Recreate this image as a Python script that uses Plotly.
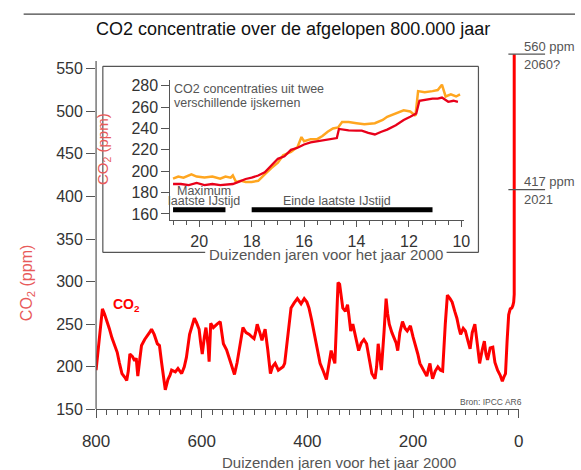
import plotly.graph_objects as go

# ---------------- data ----------------
# main series: thousands of years before 2000, CO2 ppm
main_ky = [800, 797, 793, 788, 784, 779, 775, 770, 766, 760, 756, 751, 746, 742, 739, 736, 731, 727, 724, 721,
           717, 714, 708, 703, 699, 695, 690, 684, 680, 676, 672, 669, 664, 660, 657, 650, 645, 638, 633, 629,
           623, 618, 614, 610, 605, 602, 599, 595, 592, 588, 586, 583, 578, 571, 565, 562, 559, 553, 547, 542,
           538, 533, 528, 522, 516, 510, 505, 501, 498, 495, 490, 486, 483, 480, 475, 470, 466, 461, 455, 449,
           446, 443, 437, 431, 425, 419, 412, 406, 401, 397, 392, 388, 385, 382, 379, 376, 370, 364, 360, 355,
           351, 348, 345, 342, 339, 336, 333, 328, 324, 321, 318, 314, 308, 303, 298, 293, 288, 283, 278, 272,
           269, 266, 263, 260, 255, 251, 248, 245, 240, 236, 232, 229, 225, 220, 215, 211, 205, 200, 196, 191,
           187, 182, 178, 174, 171, 168, 165, 163, 158, 153, 148, 144, 139, 135, 130, 126, 121, 117, 113, 110,
           105, 101, 96, 92, 88, 83, 78, 74, 69, 65, 62, 59, 54, 49, 45, 40, 35, 31, 28, 25,
           22, 19, 16, 13, 11, 9.5]
main_ppm = [196, 215, 240, 268, 262, 253, 245, 234, 228, 217, 205, 192, 188, 184, 195, 215, 212, 207, 210, 189,
            210, 225, 232, 236, 240, 244, 238, 227, 225, 205, 189, 173, 185, 190, 196, 194, 198, 192, 200, 211,
            238, 250, 257, 252, 244, 228, 215, 235, 246, 225, 206, 251, 246, 250, 253, 240, 227, 220, 208, 200,
            191, 205, 223, 246, 240, 238, 235, 233, 240, 250, 240, 231, 238, 244, 220, 192, 200, 204, 196, 198,
            200, 204, 240, 269, 275, 280, 274, 280, 276, 269, 255, 242, 235, 227, 215, 204, 195, 185, 200, 219,
            210, 204, 250, 299, 297, 282, 269, 265, 273, 258, 242, 250, 235, 219, 228, 232, 227, 210, 192, 186,
            200, 227, 210, 196, 240, 280, 262, 250, 240, 234, 228, 219, 240, 253, 245, 242, 248, 235, 227, 215,
            204, 198, 195, 189, 197, 204, 192, 186, 195, 200, 196, 195, 250, 284, 280, 276, 265, 257, 245, 238,
            245, 242, 230, 221, 240, 250, 225, 204, 220, 230, 215, 208, 222, 223, 205, 196, 190, 183, 188, 192,
            230, 261, 268, 269, 272, 276]
# modern rise (as drawn) up to the 2060 projection
modern_ky = [8.5, 8.5]
modern_ppm = [285, 567]

# level markers on the right (drawn positions, labels)
level_ppm = [567, 408]
level_top = ["560 ppm", "417 ppm"]
level_bottom = ["2060?", "2021"]

# inset: two ice cores, thousands of years before 2000
red_t = [21.0, 20.7, 20.4, 20.1, 19.8, 19.5, 19.2, 18.9, 18.72, 18.5, 18.23, 18.0, 17.75, 17.5, 17.25, 17.0,
         16.75, 16.5, 16.25, 16.0, 15.75, 15.5, 15.25, 15.0, 14.75, 14.67, 14.5, 14.3, 14.0, 13.8, 13.55, 13.3,
         13.05, 12.83, 12.5, 12.2, 11.95, 11.72, 11.6, 11.35, 11.1, 10.9, 10.74, 10.5, 10.3, 10.13]
red_v = [188, 188, 187, 189, 187, 188, 187, 188, 188, 190, 192.7, 194, 196, 199, 205.5, 211.6,
         214, 220, 222, 225, 227, 228, 229, 230, 231, 239.6, 239, 238.3, 238, 238, 236, 234.4,
         237, 239, 243, 248, 251, 254, 266, 267, 268, 268, 269, 265, 266, 265]
orange_t = [21.0, 20.8, 20.6, 20.3, 20.1, 19.8, 19.5, 19.2, 19.0, 18.8, 18.72, 18.6, 18.4, 18.23, 18.0, 17.75,
            17.5, 17.25, 17.0, 16.8, 16.5, 16.25, 16.1, 16.0, 15.75, 15.5, 15.3, 15.1, 14.9, 14.7, 14.55, 14.3,
            14.0, 13.7, 13.3, 13.0, 12.83, 12.5, 12.2, 11.95, 11.75, 11.65, 11.4, 11.1, 10.9, 10.74, 10.6, 10.4,
            10.2, 10.05]
orange_v = [193, 195, 194, 197, 195, 194, 195, 193, 195, 194, 196, 190, 191, 190, 190, 191,
            197, 203, 208, 215, 218, 222.6, 232, 228, 230, 230, 233, 237, 240, 241, 246, 246,
            245, 244, 245, 248, 251, 254, 257, 256, 252, 275, 274, 275, 276, 281, 270, 272,
            270, 272]

# inset period bars
period_start = [21.0, 18.0]
period_end = [19.0, 11.1]
period_level = 164

main_xticks = [800, 600, 400, 200, 0]
main_yticks = [150, 200, 250, 300, 350, 400, 450, 500, 550]
inset_xticks = [20, 18, 16, 14, 12, 10]
inset_yticks = [160, 180, 200, 220, 240, 260, 280]

# ---------------- figure ----------------
W, H = 581, 470
FONT = "Liberation Sans, Arial, Helvetica, sans-serif"
GRAY = "#555555"


def px(x):
    return x / W


def py(y):
    return 1 - y / H


fig = go.Figure()

fig.add_trace(go.Scatter(x=main_ky + modern_ky, y=main_ppm + modern_ppm, mode="lines",
                         line=dict(color="#ff0000", width=3), xaxis="x", yaxis="y",
                         showlegend=False, hoverinfo="skip"))

fig.add_trace(go.Scatter(x=orange_t, y=orange_v, mode="lines",
                         line=dict(color="#ffa620", width=2.5), xaxis="x2", yaxis="y2",
                         showlegend=False, hoverinfo="skip"))
fig.add_trace(go.Scatter(x=red_t, y=red_v, mode="lines",
                         line=dict(color="#e8001a", width=2.3), xaxis="x2", yaxis="y2",
                         showlegend=False, hoverinfo="skip"))
for s, e in zip(period_start, period_end):
    fig.add_trace(go.Scatter(x=[s, e], y=[period_level, period_level], mode="lines",
                             line=dict(color="black", width=5), xaxis="x2", yaxis="y2",
                             showlegend=False, hoverinfo="skip"))

axis_common = dict(showgrid=False, zeroline=False, ticks="outside", tickcolor=GRAY,
                   tickwidth=1.2, linecolor=GRAY, linewidth=1.2)

fig.update_layout(
    width=W, height=H, autosize=False,
    margin=dict(l=0, r=0, t=0, b=0),
    paper_bgcolor="white", plot_bgcolor="white",
    font=dict(family=FONT, color=GRAY),
    xaxis=dict(domain=[px(85), px(522.7)], range=[800, 0], tickvals=main_xticks,
               showline=True, ticklen=8, ticklabelstandoff=8,
               tickfont=dict(family=FONT, size=17, color="#333333"),
               minor=dict(dtick=20, tick0=0, ticks="outside", ticklen=5, tickcolor=GRAY, tickwidth=1.2),
               anchor="y", **axis_common),
    yaxis=dict(domain=[py(417), py(49.9)], range=[150, 570], tickvals=main_yticks,
               tickfont=dict(family=FONT, size=16, color="#333333"),
               showline=False, ticklen=9, anchor="x", **axis_common),
    xaxis2=dict(domain=[px(162), px(466)], range=[21.1, 9.9], tickvals=inset_xticks,
                showline=True, ticklen=6,
                tickfont=dict(family=FONT, size=16, color="#333333"),
                minor=dict(dtick=0.5, tick0=10, ticks="outside", ticklen=4, tickcolor=GRAY, tickwidth=1.2),
                anchor="y2", **axis_common),
    yaxis2=dict(domain=[py(223), py(79.5)], range=[154, 285], tickvals=inset_yticks,
                tickfont=dict(family=FONT, size=16, color="#333333"),
                showline=True, ticklen=8, anchor="x2", **axis_common),
)

shapes = []
line_style = dict(color=GRAY, width=1.2)
# top rule
shapes.append(dict(type="line", xref="paper", yref="paper", x0=px(10), x1=1, y0=py(11.5), y1=py(11.5),
                   line=dict(color="#444444", width=1.2)))
# main y axis line
shapes.append(dict(type="line", xref="paper", yref="y", x0=px(85), x1=px(85), y0=150, y1=559,
                   line=line_style))
# inset box (bottom edge interrupted by its axis title)
for (a, b, c, d) in [(92, 65, 481, 65), (92, 65, 92, 256), (481, 65, 481, 256),
                     (92, 256, 198, 256), (448, 256, 481, 256)]:
    shapes.append(dict(type="line", xref="paper", yref="paper", x0=px(a), y0=py(b), x1=px(c), y1=py(d),
                       line=line_style))
# right level markers
for lv in level_ppm:
    shapes.append(dict(type="line", xref="paper", yref="y", x0=px(512), x1=px(550), y0=lv, y1=lv,
                       line=line_style))
fig.update_layout(shapes=shapes)


def text(t, x, y, size, color=GRAY, xanchor="center", yanchor="middle", angle=0, xref="paper", yref="paper",
         **kw):
    return dict(text=t, x=x, y=y, xref=xref, yref=yref, xanchor=xanchor, yanchor=yanchor, textangle=angle,
                showarrow=False, font=dict(family=FONT, size=size, color=color), **kw)


ann = []
ann.append(text("CO2 concentratie over de afgelopen 800.000 jaar", px(289), py(26.5), 18, "#111111"))
ann.append(text("Duizenden jaren voor het jaar 2000", px(337), py(462), 15, yshift=-9))
ann.append(text("CO<sub>2</sub> (ppm)", px(14), py(288), 16, "#e85a5a", angle=-90))
ann.append(text("<b>CO<sub>2</sub></b>", px(117), py(310), 14, "#ff0000"))
ann.append(text("Bron: IPCC AR6", px(494), py(409), 8.5))
for lv, top, bot in zip(level_ppm, level_top, level_bottom):
    ann.append(text(top, px(526), lv, 13, xanchor="left", yref="y", yshift=8))
    ann.append(text(bot, px(526), lv, 13, xanchor="left", yref="y", yshift=-10))
# inset texts
ann.append(text("Duizenden jaren voor het jaar 2000", px(323), py(258), 15))
ann.append(text("CO<sub>2</sub> (ppm)", px(92), py(150), 15, "#e85a5a", angle=-90))
ann.append(text("CO2 concentraties uit twee", px(164), py(88), 12.5, xanchor="left"))
ann.append(text("verschillende ijskernen", px(164), py(103), 12.5, xanchor="left"))
ann.append(text("Maximum", px(197), py(192.5), 12.5))
ann.append(text("laatste IJstijd", px(197), py(203.5), 12.5))
ann.append(text("Einde laatste IJstijd", px(335), py(203.5), 12.5))
fig.update_layout(annotations=ann)

fig.write_html("out.html")
